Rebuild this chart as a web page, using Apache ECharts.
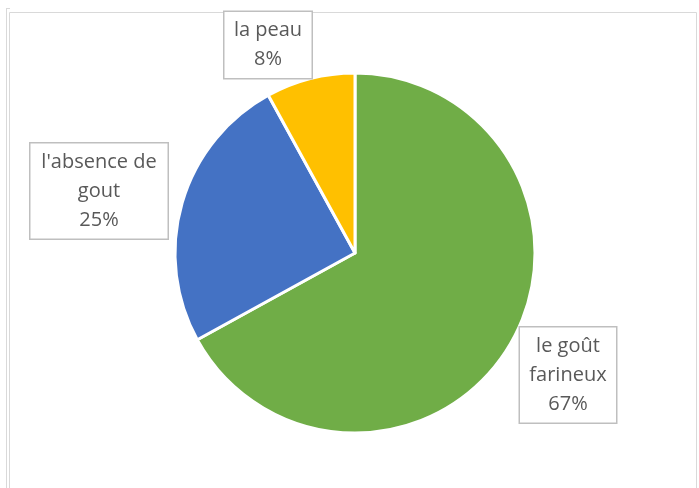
<!DOCTYPE html>
<html>
<head>
<meta charset="utf-8">
<script src="https://cdn.jsdelivr.net/npm/echarts@6/dist/echarts.min.js"></script>
<style>html,body{margin:0;padding:0;background:#fff}#c{width:699px;height:488px}</style>
</head>
<body>
<div id="c"></div>
<script>
const categories = ["le goût farineux", "l'absence de gout", "la peau"];
const labelTexts = ["le goût\nfarineux", "l'absence de\ngout", "la peau"];
const values = [67, 25, 8];
const colors = ["#70AD47", "#4472C4", "#FFC000"];
const labelPos = [[568, 375], [99, 191], [268, 45]];
const labelWidths = [96, 137, 87];

const chart = echarts.init(document.getElementById('c'));
chart.setOption({
  animation: false,
  graphic: [
    {type: 'rect', shape: {x: 9.5, y: 12.5, width: 687, height: 480}, style: {fill: 'none', stroke: '#d9d9d9', lineWidth: 1}},
    {type: 'line', shape: {x1: 6.5, y1: 8, x2: 6.5, y2: 488}, style: {stroke: '#d9d9d9', lineWidth: 1}},
    {type: 'line', shape: {x1: 6.5, y1: 8.5, x2: 10, y2: 8.5}, style: {stroke: '#d9d9d9', lineWidth: 1}}
  ],
  series: [{
    type: 'pie',
    center: [355, 253],
    radius: [0, 180],
    startAngle: 90,
    clockwise: true,
    itemStyle: {borderColor: '#fff', borderWidth: 3},
    label: {
      show: true,
      position: 'outside',
      formatter: p => labelTexts[p.dataIndex] + '\n' + p.value + '%',
      fontFamily: 'Open Sans',
      fontSize: 20,
      lineHeight: 29,
      color: '#595959',
      align: 'center',
      backgroundColor: '#fff',
      borderColor: '#bfbfbf',
      borderWidth: 1.5,
      padding: [4, 0, 4, 0]
    },
    labelLine: {show: false},
    labelLayout: p => ({x: labelPos[p.dataIndex][0], y: labelPos[p.dataIndex][1], align: 'center', verticalAlign: 'middle'}),
    data: categories.map((c, i) => ({name: c, value: values[i], itemStyle: {color: colors[i]}, label: {width: labelWidths[i]}}))
  }]
});
</script>
</body>
</html>
